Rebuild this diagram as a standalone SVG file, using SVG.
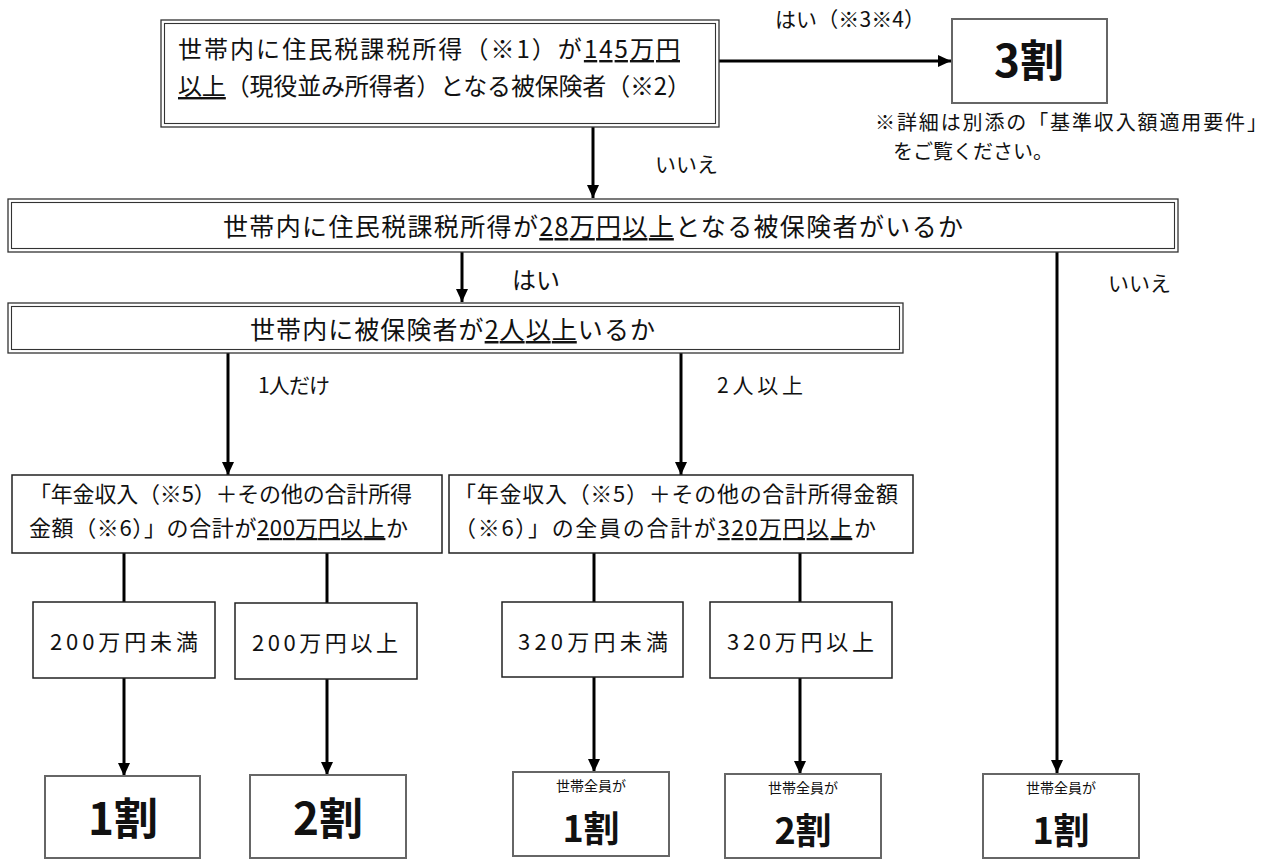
<svg xmlns="http://www.w3.org/2000/svg" width="1277" height="859" viewBox="0 0 1277 859">
<style>
text{font-family:"Noto Sans CJK JP","Noto Sans",sans-serif;fill:#111;}
.t24{font-size:24px;}
.t26{font-size:25px;}
.t22{font-size:22px;}
.t21{font-size:21px;}
.t20{font-size:20px;}
.t16{font-size:14px;}
.big{font-size:44px;font-weight:700;}
.mid{font-size:36px;font-weight:700;}
.box{fill:#fff;stroke:#222;stroke-width:1.5;}
.gbox{fill:#fff;stroke:#666;stroke-width:2;}
.dbl{fill:#fff;stroke:#333;stroke-width:1.3;}
.dbli{fill:none;stroke:#333;stroke-width:1.1;}
.ln{stroke:#000;stroke-width:3;fill:none;}
.u{text-decoration:underline;}
</style>
<defs>
<marker id="arr" markerUnits="userSpaceOnUse" viewBox="0 0 13 12" markerWidth="13" markerHeight="12" refX="13" refY="6" orient="auto">
<path d="M0,0 L13,6 L0,12 z" fill="#000"/>
</marker>
</defs>
<rect width="1277" height="859" fill="#fff"/>

<g id="connectors">
<line class="ln" x1="719" y1="61" x2="951" y2="61" marker-end="url(#arr)"/>
<line class="ln" x1="593" y1="127" x2="593" y2="198" marker-end="url(#arr)"/>
<line class="ln" x1="462" y1="252" x2="462" y2="302" marker-end="url(#arr)"/>
<line class="ln" x1="1057" y1="252" x2="1057" y2="773" marker-end="url(#arr)"/>
<line class="ln" x1="228" y1="353" x2="228" y2="475" marker-end="url(#arr)"/>
<line class="ln" x1="681" y1="353" x2="681" y2="475" marker-end="url(#arr)"/>
<line class="ln" x1="124" y1="553" x2="124" y2="602"/>
<line class="ln" x1="327" y1="553" x2="327" y2="603"/>
<line class="ln" x1="594" y1="553" x2="594" y2="602"/>
<line class="ln" x1="800" y1="553" x2="800" y2="602"/>
<line class="ln" x1="124" y1="678" x2="124" y2="776" marker-end="url(#arr)"/>
<line class="ln" x1="327" y1="679" x2="327" y2="775" marker-end="url(#arr)"/>
<line class="ln" x1="594" y1="677" x2="594" y2="772" marker-end="url(#arr)"/>
<line class="ln" x1="800" y1="678" x2="800" y2="774" marker-end="url(#arr)"/>
</g>

<g id="label-yes-top"><text class="t21" x="775" y="27" textLength="150">はい（※3※4）</text></g>
<g id="label-no-top"><text class="t21" x="655" y="172">いいえ</text></g>
<g id="label-yes-2"><text class="t24" x="512" y="289">はい</text></g>
<g id="label-no-right"><text class="t21" x="1108" y="291">いいえ</text></g>
<g id="label-one"><text class="t21" x="258" y="393" textLength="72">1人だけ</text></g>
<g id="label-two"><text class="t21" x="717" y="393" textLength="86">2人以上</text></g>

<g id="node-top">
<rect class="dbl" x="161" y="20" width="558" height="107"/>
<rect class="dbli" x="164.5" y="23.5" width="551" height="100"/>
<text class="t24" x="178" y="58" textLength="502">世帯内に住民税課税所得（※1）が<tspan class="u">145万円</tspan></text>
<text class="t24" x="178" y="95" textLength="513"><tspan class="u">以上</tspan>（現役並み所得者）となる被保険者（※2）</text>
</g>

<g id="node-3wari">
<rect class="gbox" x="952" y="19" width="155" height="84"/>
<text class="big" x="1029" y="77" text-anchor="middle">3割</text>
</g>

<g id="note">
<text class="t20" x="875" y="130" textLength="392">※詳細は別添の「基準収入額適用要件」</text>
<text class="t20" x="893" y="159">をご覧ください。</text>
</g>

<g id="node-28">
<rect class="dbl" x="8" y="199" width="1170" height="53"/>
<rect class="dbli" x="11.5" y="202.5" width="1163" height="46"/>
<text class="t26" x="223" y="236" textLength="740">世帯内に住民税課税所得が<tspan class="u">28万円以上</tspan>となる被保険者がいるか</text>
</g>

<g id="node-2nin">
<rect class="dbl" x="8" y="303" width="895" height="50"/>
<rect class="dbli" x="11.5" y="306.5" width="888" height="43"/>
<text class="t26" x="250" y="339" textLength="405">世帯内に被保険者が<tspan class="u">2人以上</tspan>いるか</text>
</g>

<g id="node-left">
<rect class="box" x="12" y="475" width="430" height="78"/>
<text class="t22" x="29" y="502" textLength="383">「年金収入（※5）＋その他の合計所得</text>
<text class="t22" x="29" y="536" textLength="379">金額（※6）」の合計が<tspan class="u">200万円以上</tspan>か</text>
</g>

<g id="node-right">
<rect class="box" x="449" y="475" width="464" height="78"/>
<text class="t22" x="454" y="502" textLength="444">「年金収入（※5）＋その他の合計所得金額</text>
<text class="t22" x="454" y="536" textLength="422">（※6）」の全員の合計が<tspan class="u">320万円以上</tspan>か</text>
</g>

<g id="node-200-less">
<rect class="box" x="33" y="602" width="182" height="76"/>
<text class="t22" x="50" y="650" textLength="148">200万円未満</text>
</g>
<g id="node-200-more">
<rect class="box" x="235" y="603" width="182" height="76"/>
<text class="t22" x="252" y="651" textLength="146">200万円以上</text>
</g>
<g id="node-320-less">
<rect class="box" x="502" y="602" width="181" height="75"/>
<text class="t22" x="518" y="650" textLength="150">320万円未満</text>
</g>
<g id="node-320-more">
<rect class="box" x="710" y="602" width="182" height="76"/>
<text class="t22" x="727" y="650" textLength="147">320万円以上</text>
</g>

<g id="node-1wari">
<rect class="gbox" x="45" y="776" width="155" height="82"/>
<text class="big" x="123" y="835" text-anchor="middle">1割</text>
</g>
<g id="node-2wari">
<rect class="gbox" x="250" y="775" width="156" height="83"/>
<text class="big" x="328" y="835" text-anchor="middle">2割</text>
</g>
<g id="node-all-1wari-a">
<rect class="gbox" x="513" y="772" width="156" height="84"/>
<text class="t16" x="591" y="791" text-anchor="middle">世帯全員が</text>
<text class="mid" x="591" y="842" text-anchor="middle">1割</text>
</g>
<g id="node-all-2wari">
<rect class="gbox" x="725" y="774" width="156" height="84"/>
<text class="t16" x="803" y="793" text-anchor="middle">世帯全員が</text>
<text class="mid" x="803" y="844" text-anchor="middle">2割</text>
</g>
<g id="node-all-1wari-b">
<rect class="gbox" x="983" y="774" width="156" height="84"/>
<text class="t16" x="1061" y="793" text-anchor="middle">世帯全員が</text>
<text class="mid" x="1061" y="844" text-anchor="middle">1割</text>
</g>
</svg>
